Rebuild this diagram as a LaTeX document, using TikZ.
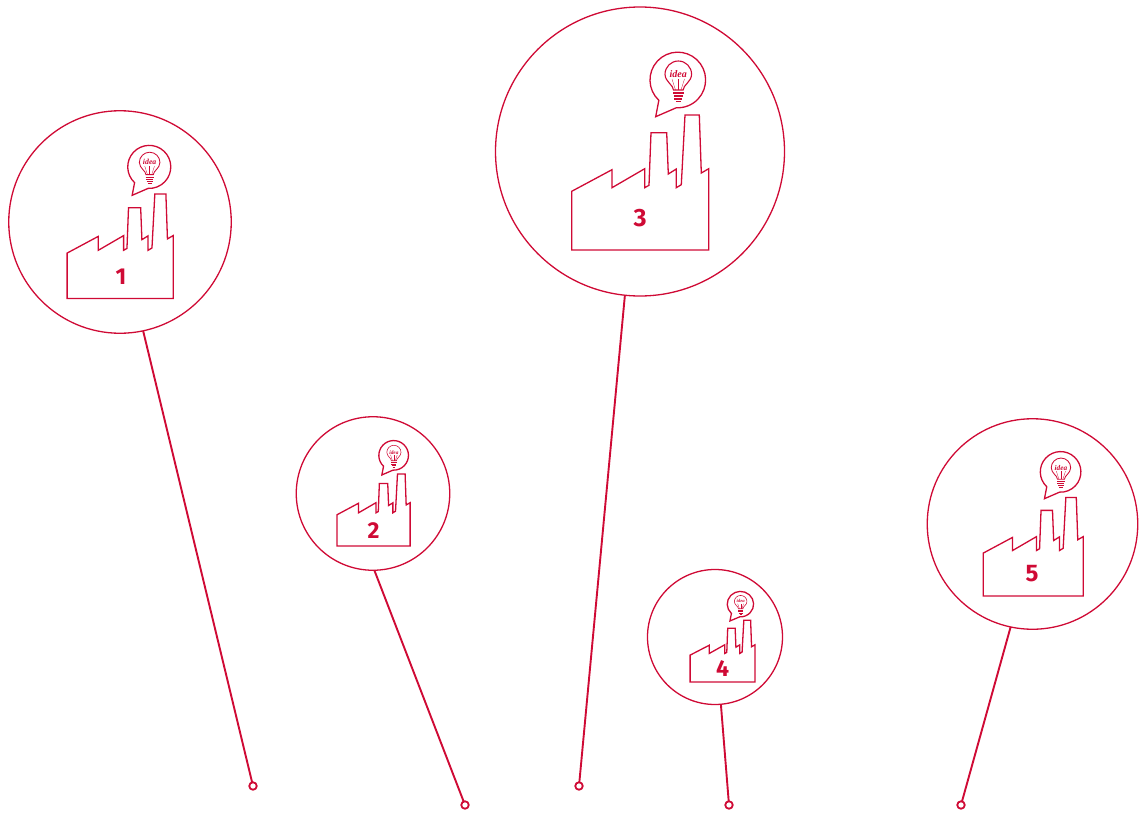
\documentclass[tikz,border=0pt]{standalone}
\usepackage{fontspec}
\usepackage{xcolor}
\usepackage{tikz}
\setmainfont{Fira Sans}
\newfontfamily\wordfont{Liberation Serif}
\definecolor{plantred}{HTML}{CF0A35}

\tikzset{
  factory/.pic={
    \draw[outline] (-68.3,0) -- (-68.3,-58.7) -- (-28,-80.3) -- (-28,-62.3) -- (4.7,-81.3) -- (4.7,-62.3)
      -- (9,-64.7) -- (11,-117.3) -- (26.7,-117.3) -- (28.3,-76) -- (36.3,-81) -- (36.3,-62.3) -- (41.3,-65.3)
      -- (45,-135) -- (59.3,-135) -- (61.3,-77) -- (68.7,-81.3) -- (68.7,0) -- cycle;
    % speech bubble
    \draw[outline] (15.7,-133.3) -- (18.84,-149.7) arc[start angle=133,end angle=453,radius=27.8] -- cycle;
    % bulb
    \draw[bulbline] (33.5,-160) .. controls (33.5,-165) and (25.2,-168) .. (25,-175.7)
      arc[start angle=180,end angle=360,radius=13.3] .. controls (51.4,-168) and (43.1,-165) .. (43.1,-160) -- cycle;
    \foreach \yy/\hw in {157/5.2, 154/4.8, 151/4, 148.5/2.4} \draw[bulbline] (38.3-\hw,-\yy) -- (38.3+\hw,-\yy);
    \foreach \xa/\xb in {35.5/32, 38.3/38.3, 41/44.5} \draw[plantred, line width=.3pt] (\xa,-160) -- (\xb,-171);
    \node[plantred, inner sep=0, transform shape, font=\wordfont\bfseries\itshape\fontsize{10}{10}\selectfont] (word) at (38.3,-176) {idea};
  }
}

\begin{document}
\begin{tikzpicture}[
  x=1pt, y=-1pt,
  outline/.style={draw=plantred, line width=1.3pt, line join=miter},
  bulbline/.style={draw=plantred, line width=1.1pt},
  thinbulb/.style={bulbline/.append style={line width=.55pt}},
  hub/.style={circle, draw=plantred, line width=1.3pt, inner sep=0, outer sep=0},
  ring/.style={circle, draw=plantred, line width=1.8pt, inner sep=0, outer sep=0, minimum size=7.5pt},
  stem/.style={draw=plantred, line width=1.9pt},
  num/.style={text=plantred, inner sep=0, font=\bfseries\fontsize{#1}{#1}\selectfont}]
\useasboundingbox (0,0) rectangle (1141,814);
\node[hub, minimum size=222.5pt] (c1) at (120,222) {};
\node[hub, minimum size=153.5pt] (c2) at (373,493.5) {};
\node[hub, minimum size=289pt] (c3) at (640,151.5) {};
\node[hub, minimum size=135pt] (c4) at (715,637) {};
\node[hub, minimum size=210.5pt] (c5) at (1032.5,524) {};
\node[ring] (t1) at (253,786) {};
\node[ring] (t2) at (465,805) {};
\node[ring] (t3) at (579,786) {};
\node[ring] (t4) at (729,805) {};
\node[ring] (t5) at (961,805) {};
\pic (f1) at (120,298.5) [scale=.774, bulbline/.append style={line width=.85pt}] {factory};
\pic (f2) at (373.5,546) [scale=.533, thinbulb] {factory};
\pic (f3) at (640,250) [scale=1] {factory};
\pic (f4) at (722.5,682) [xscale=.474, yscale=.458, thinbulb] {factory};
\pic (f5) at (1033,596) [scale=.73, bulbline/.append style={line width=.85pt}] {factory};
\node[num=23] (n1) at (121,277) {1};
\node[num=23] (n2) at (373.5,530.5) {2};
\node[num=25] (n3) at (640,218) {3};
\node[num=23] (n4) at (722.5,668.5) {4};
\node[num=24] (n5) at (1032,574) {5};
\foreach \a/\b/\ang in {c1/t1/-78.8, c2/t2/-89.3, c3/t3/-96.3, c4/t4/-85.7, c5/t5/-102.1} \draw[stem] (\a.\ang) -- (\b);
\end{tikzpicture}
\end{document}
